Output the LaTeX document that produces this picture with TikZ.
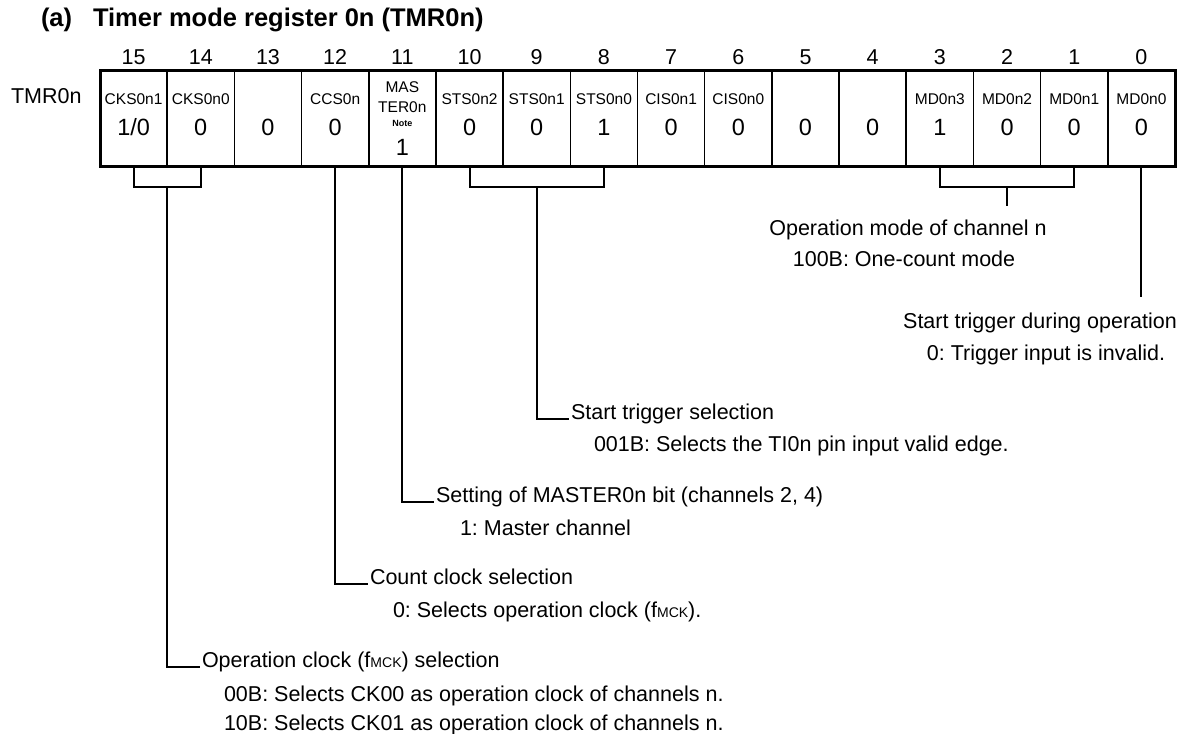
\documentclass[tikz,border=0pt]{standalone}
\usepackage{fontspec}
\setmainfont{Liberation Sans}
\usetikzlibrary{calc, positioning}

\newcommand{\fmckidx}{\raisebox{-0.5pt}{\fontsize{14}{14}\selectfont MCK}}
\frenchspacing

\begin{document}
\begin{tikzpicture}[x=1pt, y=-1pt, line width=2pt,
    cell/.style={draw, line width=1.6pt, minimum width=67.19pt, minimum height=95pt, inner sep=0pt, outer sep=0pt},
    fld/.style={font=\fontsize{15.5}{16}\selectfont, inner sep=0pt, anchor=base},
    val/.style={font=\fontsize{23.5}{24}\selectfont, inner sep=0pt, anchor=base},
    txt/.style={font=\fontsize{21.5}{24}\selectfont, inner sep=0pt, anchor=base west},
    ctxt/.style={font=\fontsize{21.5}{24}\selectfont, inner sep=0pt, anchor=base},
    ttl/.style={font=\bfseries\fontsize{25.5}{28}\selectfont, inner sep=0pt, anchor=base west}]
    \useasboundingbox (0,0) rectangle (1177,733);

    % Tiêu đề
    \node[ttl] (tag) at (40,27) {(a)};
    \node[ttl] (title) at (92,27) {Timer mode register 0n (TMR0n)};
    \node[txt] (regname) at (10,103) {TMR0n};

    % Các ô bit
    \foreach \i in {0,...,15} {
        \pgfmathtruncatemacro\b{15-\i}
        \node[cell] (c\b) at ({100+67.1875*(\i+0.5)},118.5) {};
        \node[val, font=\fontsize{21.5}{24}\selectfont] at ([yshift=6pt]c\b.north) {\b};
    }
    \draw[line width=3pt] (c15.north west) rectangle (c0.south east);

    \foreach \b/\nm/\v in {15/CKS0n1/{1/0}, 14/CKS0n0/0, 13//0, 12/CCS0n/0, 10/STS0n2/0, 9/STS0n1/0,
            8/STS0n0/1, 7/CIS0n1/0, 6/CIS0n0/0, 5//0, 4//0, 3/MD0n3/1, 2/MD0n2/0, 1/MD0n1/0, 0/MD0n0/0} {
        \node[fld] at ([yshift=-33.4pt]c\b.north) {\nm};
        \node[val] at ([yshift=-64.5pt]c\b.north) {\v};
    }
    \node[fld] at ([yshift=-21.4pt]c11.north) {MAS};
    \node[fld] at ([yshift=-41.4pt]c11.north) {TER0n};
    \node[fld, font=\bfseries\fontsize{9}{9}\selectfont] at ([yshift=-56pt]c11.north) {Note};
    \node[val] at ([yshift=-84.5pt]c11.north) {1};

    % Móc nối các ô
    \draw (c15.south) -- ++(0,21) -| (c14.south);
    \draw (c10.south) -- ++(0,21) -| (c8.south);
    \draw (c3.south) -- ++(0,21) -| (c1.south);
    \coordinate (ckjoin) at ($(c15.south)!0.5!(c14.south)+(0,21)$);
    \coordinate (stsjoin) at ($(c9.south)+(0,21)$);
    \coordinate (mdjoin) at ($(c2.south)+(0,21)$);

    % Chú thích
    \node[ctxt] (opmode) at (908,235) {Operation mode of channel n};
    \node[ctxt] (opmodev) at (904,266) {100B: One-count mode};
    \node[ctxt] (sttrig) at (1040,328) {Start trigger during operation};
    \node[ctxt] (sttrigv) at (1046,360) {0: Trigger input is invalid.};
    \node[txt] (stsel) at (570,419) {Start trigger selection};
    \node[txt] (stselv) at (593,451) {001B: Selects the TI0n pin input valid edge.};
    \node[txt] (mst) at (435,502) {Setting of MASTER0n bit (channels 2, 4)};
    \node[txt] (mstv) at (459,535) {1: Master channel};
    \node[txt] (ccs) at (369,584) {Count clock selection};
    \node[txt] (ccsv) at (392,617) {0: Selects operation clock (f\fmckidx).};
    \node[txt] (cks) at (201,667) {Operation clock (f\fmckidx) selection};
    \node[txt] (cksv1) at (223,701) {00B: Selects CK00 as operation clock of channels n.};
    \node[txt] (cksv2) at (223,730) {10B: Selects CK01 as operation clock of channels n.};

    \draw[shorten >=12pt] (mdjoin) -- (mdjoin |- opmode.north);
    \draw[shorten >=14pt] (c0.south) -- (c0.south |- sttrig.north);
    \draw (stsjoin) |- ([xshift=-1pt]stsel.base west);
    \draw (c11.south) |- ([xshift=-1pt]mst.base west);
    \draw (c12.south) |- ([xshift=-1pt]ccs.base west);
    \draw (ckjoin) |- ([xshift=-1pt]cks.base west);
\end{tikzpicture}
\end{document}
